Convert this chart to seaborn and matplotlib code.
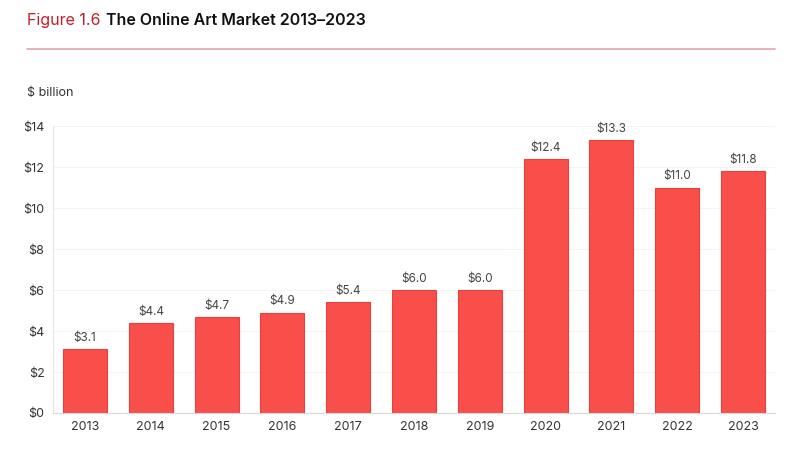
import pandas as pd
import matplotlib.pyplot as plt
import seaborn as sns

# Data
years = ["2013", "2014", "2015", "2016", "2017", "2018", "2019", "2020", "2021", "2022", "2023"]
sales = [3.1, 4.4, 4.7, 4.9, 5.4, 6.0, 6.0, 12.4, 13.3, 11.0, 11.8]
yticks = [0, 2, 4, 6, 8, 10, 12, 14]

df = pd.DataFrame({"Year": years, "Sales": sales})

sns.set_style("white")
plt.rcParams["font.family"] = ["Inter", "DejaVu Sans"]

fig = plt.figure(figsize=(8, 4.72), dpi=100)
ax = fig.add_axes([0.066, 0.125, 0.903, 0.608])

sns.barplot(data=df, x="Year", y="Sales", color="#f94f4a", width=0.67,
            edgecolor="#e8403c", linewidth=0.8, saturation=1, ax=ax)

for i, v in enumerate(sales):
    ax.text(i, v + 0.25, f"${v:.1f}", ha="center", va="bottom",
            fontsize=8.5, color="#444444")

ax.set_xlim(-0.49, 10.49)
ax.set_ylim(0, 14)
ax.set_yticks(yticks)
ax.set_yticklabels([f"${t}" for t in yticks])
ax.set_xlabel("")
ax.set_ylabel("")
ax.tick_params(axis="both", labelsize=9, colors="#333333", length=0, pad=6)
ax.yaxis.grid(True, color="#f4f4f4", linewidth=0.8)
ax.set_axisbelow(True)
for s in ["top", "right"]:
    ax.spines[s].set_visible(False)
ax.spines["left"].set_color("#e6e6e6")
ax.spines["bottom"].set_color("#d9d9d9")

# Title and header rule
t1 = fig.text(0.034, 0.957, "Figure 1.6", fontsize=11.5, color="#c41e2a",
              va="center")
fig.canvas.draw()
bb = t1.get_window_extent().transformed(fig.transFigure.inverted())
fig.text(bb.x1 + 0.006, 0.957, "The Online Art Market 2013\u20132023", fontsize=11.5,
         color="#111111", fontweight="semibold", va="center")
fig.add_artist(plt.Line2D([0.034, 0.969], [0.896, 0.896], color="#e9a3a8",
                          linewidth=1.2, transform=fig.transFigure))
fig.text(0.034, 0.803, "$ billion", fontsize=9, color="#333333", va="center")

plt.savefig("out.png", dpi=100)
